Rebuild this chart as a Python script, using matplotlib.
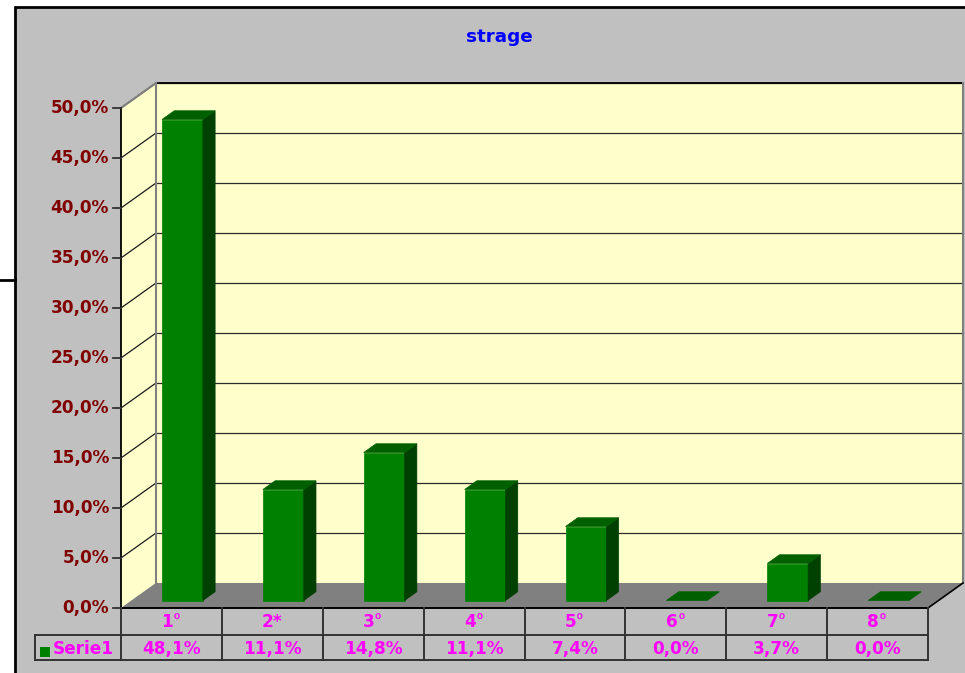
import matplotlib
matplotlib.use('Agg')
import matplotlib.pyplot as plt
from matplotlib.patches import Polygon, Rectangle

# ---- data ----
categories = ['1°', '2*', '3°', '4°', '5°', '6°', '7°', '8°']
values = [48.1, 11.1, 14.8, 11.1, 7.4, 0.0, 3.7, 0.0]
value_labels = ['48,1%', '11,1%', '14,8%', '11,1%', '7,4%', '0,0%', '3,7%', '0,0%']
y_ticks = [0, 5, 10, 15, 20, 25, 30, 35, 40, 45, 50]
y_tick_labels = ['0,0%', '5,0%', '10,0%', '15,0%', '20,0%', '25,0%',
                 '30,0%', '35,0%', '40,0%', '45,0%', '50,0%']
series_name = 'Serie1'
title = 'strage'

# ---- layout ----
W_PX, H_PX = 965, 673
CAT_PX = 100.875     # pixels per category
PCT_PX = 10.0        # pixels per percent
X0_PX, Y0_PX = 121, 608
N = len(categories)
YMAX = y_ticks[-1]

fig = plt.figure(figsize=(W_PX / 100, H_PX / 100), dpi=100)
fig.patch.set_facecolor('white')
ax = fig.add_axes([0, 0, 1, 1])
ax.set_xlim(-X0_PX / CAT_PX, (W_PX - X0_PX) / CAT_PX)
ax.set_ylim(-(H_PX - Y0_PX) / PCT_PX, Y0_PX / PCT_PX)
ax.axis('off')


def px(x, y):
    return ((x - X0_PX) / CAT_PX, (Y0_PX - y) / PCT_PX)


DX = 35 / CAT_PX
DY = 25 / PCT_PX

FONT = 'DejaVu Sans'
FS = 12.2

# chart area
(cx0, cy0) = px(15, 7)
(cx1, cy1) = px(1000, 700)
ax.add_patch(Rectangle((cx0, cy1), cx1 - cx0, cy0 - cy1, facecolor='#C0C0C0',
                       edgecolor='black', lw=2, zorder=0))
sx0, sy = px(0, 280)
sx1, _ = px(15, 280)
ax.plot([sx0, sx1], [sy, sy], color='black', lw=2, zorder=1)

# title
tx, ty = px(499, 37)
ax.text(tx, ty, title, color='#0000FF', fontsize=13.2, fontweight='bold',
        family=FONT, ha='center', va='center', zorder=5)

# back wall
ax.add_patch(Polygon([(DX, DY), (N + DX, DY), (N + DX, YMAX + DY), (DX, YMAX + DY)],
                     closed=True, facecolor='#FFFFCC', edgecolor='none', zorder=1))
# left side wall
ax.add_patch(Polygon([(0, 0), (DX, DY), (DX, YMAX + DY), (0, YMAX)],
                     closed=True, facecolor='#FFFFCC', edgecolor='none', zorder=1))
# floor
ax.add_patch(Polygon([(0, 0), (N, 0), (N + DX, DY), (DX, DY)],
                     closed=True, facecolor='#808080', edgecolor='none', zorder=1.5))

# gridlines
for v in y_ticks[1:]:
    ax.plot([DX, N + DX], [v + DY, v + DY], color='#2a2a2a', lw=0.9, zorder=2)
    ax.plot([0, DX], [v, v + DY], color='#1a1a1a', lw=0.9, zorder=2)
# wall edges
ax.plot([DX, N + DX], [YMAX + DY, YMAX + DY], color='black', lw=1.3, zorder=2.1)
ax.plot([DX, DX], [DY, YMAX + DY], color='#808080', lw=1.5, zorder=2.1)
ax.plot([N + DX, N + DX], [DY, YMAX + DY], color='#808080', lw=1.5, zorder=2.1)
ax.plot([0, DX], [YMAX, YMAX + DY], color='#808080', lw=1.5, zorder=2.1)
ax.plot([N, N + DX], [0, DY], color='black', lw=1.2, zorder=2.1)

# bars
BW = 0.405
D1, D2 = 0.30, 0.65
C_FRONT, C_TOP, C_SIDE = '#008000', '#006000', '#004000'
for i, v in enumerate(values):
    xl = i + 0.505 - BW / 2
    xr = i + 0.505 + BW / 2
    a1x, a1y = D1 * DX, D1 * DY
    a2x, a2y = D2 * DX, D2 * DY
    z = 3 + i * 0.01
    if v > 0:
        ax.add_patch(Polygon([(xl + a1x, a1y), (xr + a1x, a1y), (xr + a1x, v + a1y), (xl + a1x, v + a1y)],
                             closed=True, facecolor=C_FRONT, edgecolor=C_FRONT, lw=0.5, zorder=z))
        ax.add_patch(Polygon([(xr + a1x, a1y), (xr + a2x, a2y), (xr + a2x, v + a2y), (xr + a1x, v + a1y)],
                             closed=True, facecolor=C_SIDE, edgecolor=C_SIDE, lw=0.5, zorder=z))
    ax.add_patch(Polygon([(xl + a1x, v + a1y), (xr + a1x, v + a1y), (xr + a2x, v + a2y), (xl + a2x, v + a2y)],
                         closed=True, facecolor=C_TOP, edgecolor=C_TOP, lw=0.5, zorder=z))

# value axis
ax.plot([0, 0], [0, YMAX], color='black', lw=1.3, zorder=4)
tick_x0, _ = px(113, 0)
lab_x, _ = px(109, 0)
for v, lab in zip(y_ticks, y_tick_labels):
    ax.plot([tick_x0, 0], [v, v], color='#333333', lw=1.3, zorder=4)
    ax.text(lab_x, v, lab, color='#800000', fontsize=FS, fontweight='bold',
            family=FONT, ha='right', va='center', zorder=5)

# data table
_, r0 = px(0, 608)
_, r1 = px(0, 635)
_, r2 = px(0, 660)
lx, _ = px(35, 0)
TC = '#333333'
ax.plot([0, N], [r0, r0], color='black', lw=1.4, zorder=4)
ax.plot([lx, N], [r1, r1], color=TC, lw=1.4, zorder=4)
ax.plot([lx, N], [r2, r2], color=TC, lw=1.4, zorder=4)
ax.plot([lx, lx], [r1, r2], color=TC, lw=1.4, zorder=4)
for i in range(N + 1):
    ax.plot([i, i], [r0, r2], color=TC, lw=1.4, zorder=4)
_, ty1 = px(0, 622)
_, ty2 = px(0, 649)
for i, (c, vl) in enumerate(zip(categories, value_labels)):
    ax.text(i + 0.5, ty1, c, color='#FF00FF', fontsize=FS, fontweight='bold',
            family=FONT, ha='center', va='center', zorder=5)
    ax.text(i + 0.5, ty2, vl, color='#FF00FF', fontsize=FS, fontweight='bold',
            family=FONT, ha='center', va='center', zorder=5)
# legend key
kx0, ky0 = px(40, 657)
kx1, ky1 = px(50, 647)
ax.add_patch(Rectangle((kx0, ky0), kx1 - kx0, ky1 - ky0, facecolor='#008000',
                       edgecolor='none', zorder=5))
sx, _ = px(53, 0)
ax.text(sx, ty2, series_name, color='#FF00FF', fontsize=FS, fontweight='bold',
        family=FONT, ha='left', va='center', zorder=5)

fig.savefig('out.png', dpi=100, facecolor=fig.get_facecolor())
